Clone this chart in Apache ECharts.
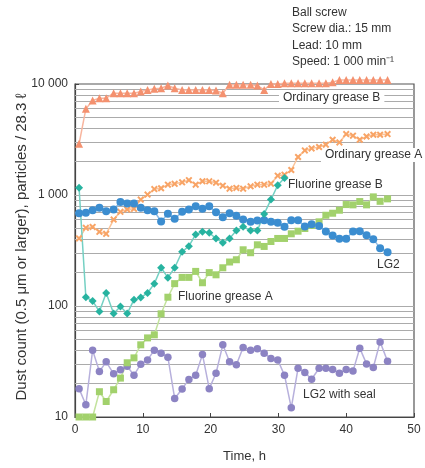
<!DOCTYPE html>
<html>
<head>
<meta charset="utf-8">
<script src="https://cdn.jsdelivr.net/npm/echarts@6/dist/echarts.min.js"></script>
<style>
html,body{margin:0;padding:0;background:#fff;}
#chart{width:425px;height:468px;}
</style>
</head>
<body>
<div id="chart"></div>
<script>
// ---- data ----
const hours = [0.6,1.6,2.6,3.6,4.6,5.7,6.7,7.7,8.7,9.7,10.7,11.7,12.7,13.7,14.7,15.8,16.8,17.8,18.8,19.8,20.8,21.8,22.8,23.8,24.8,25.9,26.9,27.9,28.9,29.9,30.9,31.9,32.9,33.9,34.9,36.0,37.0,38.0,39.0,40.0,41.0,42.0,43.0,44.0,45.0,46.1];

const ordinaryB = [2890,5970,7100,7450,7450,8260,8260,8260,8260,8550,8850,9040,9170,9680,9170,8850,8850,8850,8850,8850,8730,8260,9840,9840,9840,9840,9680,8850,10020,10020,10170,10170,10170,10170,10170,10170,10170,10380,10880,10880,10880,10880,10880,10880,10880,10880];
const ordinaryA = [406,506,516,466,447,601,705,740,750,909,1009,1130,1150,1240,1260,1300,1360,1240,1330,1328,1290,1214,1141,1158,1141,1197,1240,1240,1265,1493,1523,1679,2199,2522,2630,2706,2838,3147,2977,3540,3420,3147,3366,3491,3491,3540];
const fluorineB = [1160,120,111,89,131,85.5,99,85.5,114,119,131,159,221,180,221,308,346,441,466,456,406,371,406,479,517,479,479,676,909,1223,1425];
const fluorineA = [10,10,10,16.9,13.8,17.6,22.4,30.8,34.1,44.7,51.6,55,85,120,159,181,181,205,162,200,191,221,249,261,321,302,356,344,381,406,406,447,472,499,531,573,657,685,729,820,815,873,815,962,877,923];
const lg2 = [686,691,729,766,714,740,867,838,838,766,729,714,577,677,610,705,740,791,750,791,700,631,686,649,601,573,589,593,573,561,517,593,593,520,546,527,469,432,403,403,469,472,434,400,332,305];
const lg2Seal = [18,12.9,40,25.7,31.4,24.5,26.6,28.7,23.8,29.9,32.7,40,37.6,34.6,14.7,17.9,21.8,23.8,36.6,18,24.8,44.7,31.4,29.5,42.3,40,41.1,37.6,33.7,32.7,23.8,12.1,27.5,25.2,21.9,27.5,27.5,26.8,24.8,26.8,25.9,41.7,30.1,27.9,47.5,31.8];

const gridValues = [20,30,40,50,60,70,80,90,100,200,300,400,500,600,700,800,900,1000,2000,3000,4000,5000,6000,7000,8000,9000];
const xTicks = {min:0, max:50, interval:10};
const yTicks = {min:10, max:10000};

const yTitle = 'Dust count (0.5 \u03BCm or larger), particles / 28.3 \u2113';
const notes = ['Ball screw','Screw dia.: 15 mm','Lead: 10 mm','Speed: 1 000 min\u207B\u00B9'];
const seriesNames = ['Ordinary grease B','Ordinary grease A','Fluorine grease B','Fluorine grease A','LG2','LG2 with seal'];

// ---- chart ----
const FONT = '"Liberation Sans", Arial, sans-serif';
function pairs(vals){ return vals.map((v,i)=>[hours[i], v]); }
const xPath = 'path://M2,0 L5,3 L8,0 L10,2 L7,5 L10,8 L8,10 L5,7 L2,10 L0,8 L3,5 L0,2 Z';

function mkSeries(name, vals, symbol, size, color, lineColor, extra){
  return Object.assign({
    name, type:'line', data: pairs(vals), symbol, symbolSize:size,
    showSymbol:true, z:4, clip:false, animation:false,
    itemStyle:{color, borderWidth:0},
    lineStyle:{color: lineColor, width:1.5}
  }, extra||{});
}

const chart = echarts.init(document.getElementById('chart'), null, {renderer:'canvas'});
const labelStyle = (t)=>({text:t, fill:'#333', font:'12px '+FONT, backgroundColor:'#fff', padding:[1,4,1,4], align:'left', verticalAlign:'middle'});

chart.setOption({
  animation:false,
  backgroundColor:'#fff',
  grid:{left:75, right:11, top:84, bottom:50, show:true, borderColor:'#555', borderWidth:1.2, backgroundColor:'transparent'},
  xAxis:{
    type:'value', min:xTicks.min, max:xTicks.max, interval:xTicks.interval,
    name:'Time, h', nameLocation:'middle', nameGap:33,
    nameTextStyle:{fontFamily:FONT, fontSize:13, color:'#333'},
    axisLine:{lineStyle:{color:'#444', width:1.2}},
    axisTick:{inside:true, length:4, lineStyle:{color:'#444'}},
    axisLabel:{fontFamily:FONT, fontSize:12, color:'#333', margin:7},
    splitLine:{show:false}
  },
  yAxis:{
    type:'log', logBase:10, min:yTicks.min, max:yTicks.max,
    axisLine:{show:true, lineStyle:{color:'#444', width:1.2}},
    axisTick:{inside:true, length:4, lineStyle:{color:'#444'}},
    axisLabel:{fontFamily:FONT, fontSize:12, color:'#333', margin:7,
      formatter:(v)=> v>=1000 ? String(v).replace(/\B(?=(\d{3})+(?!\d))/g,' ') : String(v)},
    splitLine:{show:false}
  },
  graphic:[
    {type:'text', x:22, y:247, rotation:Math.PI/2, z:3,
      style:{text:yTitle, fill:'#333', font:'15px '+FONT, align:'center', verticalAlign:'middle'}},
    ...notes.map((t,i)=>({type:'text', x:292, y:12.5+16.4*i, z:3,
      style:{text:t, fill:'#333', font:'12px '+FONT, align:'left', verticalAlign:'middle'}})),
    {type:'text', x:279, y:98, z:3, style:labelStyle(seriesNames[0])},
    {type:'text', x:321, y:155, z:3, style:labelStyle(seriesNames[1])},
    {type:'text', x:284, y:185, z:3, style:labelStyle(seriesNames[2])},
    {type:'text', x:174, y:297, z:3, style:labelStyle(seriesNames[3])},
    {type:'text', x:373, y:265, z:3, style:labelStyle(seriesNames[4])},
    {type:'text', x:299, y:395, z:3, style:labelStyle(seriesNames[5])}
  ],
  series:[
    {
      name:'grid', type:'line', data:[], z:1, silent:true,
      markLine:{
        z:1, silent:true, symbol:['none','none'], animation:false,
        label:{show:false},
        lineStyle:{color:'#ababab', width:1.2, type:'solid'},
        emphasis:{disabled:true},
        data: gridValues.map(v=>({yAxis:v}))
      }
    },
    mkSeries(seriesNames[0], ordinaryB, 'triangle', 8, '#f4916f', '#f8b59e'),
    mkSeries(seriesNames[1], ordinaryA, xPath, 7, '#f8a466', '#fbc398'),
    mkSeries(seriesNames[5], lg2Seal, 'circle', 7.5, '#8c83c3', '#b7b0dc'),
    mkSeries(seriesNames[3], fluorineA, 'rect', 7, '#a2d16c', '#c3e39d'),
    mkSeries(seriesNames[4], lg2, 'circle', 8, '#3b8dd0', '#8dbbe4'),
    mkSeries(seriesNames[2], fluorineB, 'diamond', 8, '#27b3a0', '#74d0c3')
  ]
});
</script>
</body>
</html>
